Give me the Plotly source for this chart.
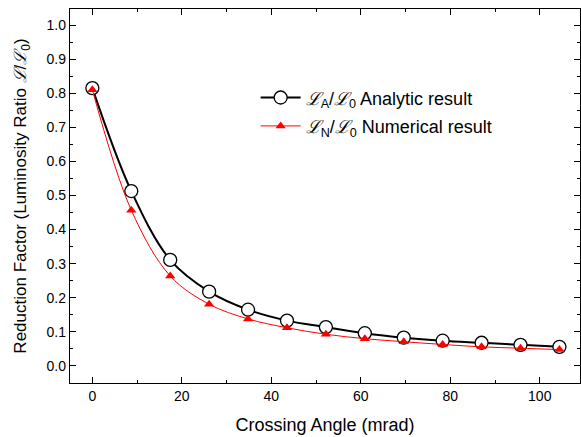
import plotly.graph_objects as go

angle = [0, 8.7, 17.4, 26.1, 34.8, 43.5, 52.2, 60.9, 69.6, 78.3, 87.0, 95.7, 104.4]
analytic = [0.815, 0.513, 0.311, 0.218, 0.165, 0.133, 0.114, 0.096, 0.083, 0.074, 0.068, 0.062, 0.056]
numerical = [0.810, 0.457, 0.264, 0.181, 0.138, 0.112, 0.093, 0.080, 0.071, 0.063, 0.056, 0.052, 0.048]

FONT = "Liberation Sans, Arial, sans-serif"

fig = go.Figure()
fig.add_trace(go.Scatter(
    x=angle, y=analytic, mode="lines+markers",
    line=dict(color="black", width=2, shape="spline"),
    marker=dict(symbol="circle", size=13, color="white", line=dict(color="black", width=1.3)),
    name="<i>ℒ</i><sub>A</sub>/<i>ℒ</i><sub>0</sub> Analytic result",
    legendgroup="a",
))
fig.add_trace(go.Scatter(
    x=angle, y=numerical, mode="lines+markers",
    line=dict(color="red", width=1, shape="spline"),
    marker=dict(symbol="triangle-up", size=9, color="red"),
    name="<i>ℒ</i><sub>N</sub>/<i>ℒ</i><sub>0</sub> Numerical result",
    legendgroup="n",
))

axis_common = dict(
    showline=True, linecolor="black", linewidth=1.3, mirror="ticks",
    ticks="inside", ticklen=6, tickwidth=1.3, tickcolor="black",
    showgrid=False, zeroline=False, automargin=False,
    tickfont=dict(family=FONT, size=14, color="black"),
)

fig.update_xaxes(
    range=[-5, 109], tickmode="array", tickvals=[0, 20, 40, 60, 80, 100],
    minor=dict(ticks="inside", ticklen=3, tickwidth=1.3, tickcolor="black", dtick=10, tick0=0),
    title=dict(text="Crossing Angle (mrad)", font=dict(family=FONT, size=18, color="black")),
    **axis_common,
)
fig.update_yaxes(
    range=[-0.05, 1.047], tickmode="array",
    tickvals=[0.0, 0.1, 0.2, 0.3, 0.4, 0.5, 0.6, 0.7, 0.8, 0.9, 1.0],
    ticktext=["0.0", "0.1", "0.2", "0.3", "0.4", "0.5", "0.6", "0.7", "0.8", "0.9", "1.0"],
    minor=dict(ticks="inside", ticklen=3, tickwidth=1.3, tickcolor="black", dtick=0.05, tick0=0),
    title=dict(text="Reduction Factor (Luminosity Ratio <i>ℒ</i>/<i>ℒ</i><sub>0</sub>)",
               font=dict(family=FONT, size=17, color="black")),
    **axis_common,
)

fig.update_layout(
    width=581, height=437,
    margin=dict(l=70, r=1, t=9, b=54),
    plot_bgcolor="white", paper_bgcolor="white",
    font=dict(family=FONT, color="black"),
    legend=dict(x=0.364, y=0.812, xanchor="left", yanchor="top",
                bgcolor="rgba(0,0,0,0)", font=dict(family=FONT, size=18, color="black"),
                itemwidth=40, tracegroupgap=2, traceorder="grouped"),
    showlegend=True,
)

fig.write_html("out.html", config={"displayModeBar": False},
               post_script="document.body.style.margin='0';document.body.style.padding='0';")
